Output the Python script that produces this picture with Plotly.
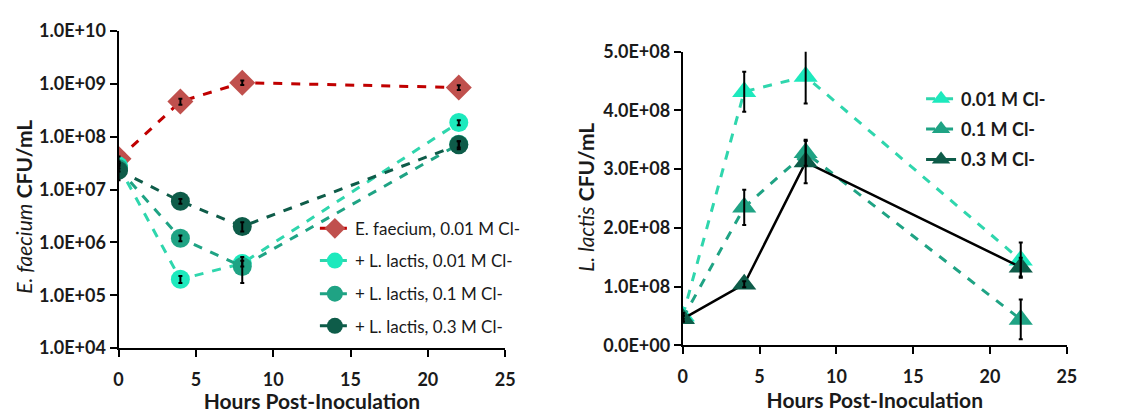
import plotly.graph_objects as go

hours = [0, 4, 8, 22]

# Left panel: E. faecium CFU/mL (log)
ef_alone = [3.8e7, 4.6e8, 1.05e9, 8.5e8]
ef_alone_err = [4e6, 6e7, 1.0e8, 9e7]
ef_ll_001 = [2.8e7, 2.0e5, 4.0e5, 1.85e8]
ef_ll_001_err = [3e6, 3e4, 5e4, 2e7]
ef_ll_01 = [2.5e7, 1.2e6, 3.5e5, 7.2e7]
ef_ll_01_err = [3e6, 1.5e5, 1.8e5, 1.0e7]
ef_ll_03 = [2.3e7, 6.0e6, 2.0e6, 7.0e7]
ef_ll_03_err = [8e6, 6e5, 4e5, 1.2e7]

# Right panel: L. lactis CFU/mL
ll_001 = [5.0e7, 4.32e8, 4.58e8, 1.45e8]
ll_001_err = [5e6, 3.4e7, 4.6e7, 3.0e7]
ll_01 = [4.6e7, 2.35e8, 3.28e8, 4.4e7]
ll_01_err = [5e6, 3.0e7, 2.2e7, 3.4e7]
ll_03 = [4.5e7, 1.04e8, 3.12e8, 1.33e8]
ll_03_err = [5e6, 5e6, 3.6e7, 1.6e7]

left_names = ["E. faecium, 0.01 M Cl-", "+ L. lactis, 0.01 M Cl-",
              "+ L. lactis, 0.1 M Cl-", "+ L. lactis, 0.3 M Cl-"]
right_names = ["0.01 M Cl-", "0.1 M Cl-", "0.3 M Cl-"]

log_tickvals = [1e4, 1e5, 1e6, 1e7, 1e8, 1e9, 1e10]
log_ticktext = ["1.0E+04", "1.0E+05", "1.0E+06", "1.0E+07", "1.0E+08", "1.0E+09", "1.0E+10"]
lin_tickvals = [0, 1e8, 2e8, 3e8, 4e8, 5e8]
lin_ticktext = ["0.0E+00", "1.0E+08", "2.0E+08", "3.0E+08", "4.0E+08", "5.0E+08"]
x_ticks = [0, 5, 10, 15, 20, 25]

C_RED_L = "#c00000"
C_RED_M = "#c0504d"
C_AQ = "#1de9bd"
C_AQ_L = "#2fd6ad"
C_MID = "#1fa384"
C_DARK = "#0e5c49"

FONT = "Lato"
TXT = "#1a1a1a"

fig = go.Figure()

def err(arr):
    return dict(type="data", array=arr, color="black", thickness=2, width=2)

left_leg = ["legend", "legend3", "legend4", "legend5"]
right_leg = ["legend2", "legend6", "legend7"]

left_series = [
    (ef_alone, left_names[0], C_RED_L, C_RED_M, "diamond", 20),
    (ef_ll_001, left_names[1], C_AQ_L, C_AQ, "circle", 19),
    (ef_ll_01, left_names[2], C_MID, C_MID, "circle", 19),
    (ef_ll_03, left_names[3], C_DARK, C_DARK, "circle", 19),
]
for (y, name, lc, mc, sym, sz), lg in zip(left_series, left_leg):
    fig.add_trace(go.Scatter(
        x=hours, y=y, name=name, mode="lines+markers",
        line=dict(color=lc, width=3, dash="dash"),
        marker=dict(symbol=sym, size=sz, color=mc),
        xaxis="x", yaxis="y", legend=lg,
    ))

right_series = [
    (ll_001, right_names[0], C_AQ_L, C_AQ),
    (ll_01, right_names[1], C_MID, C_MID),
]
for (y, name, lc, mc), lg in zip(right_series, right_leg[:2]):
    fig.add_trace(go.Scatter(
        x=hours, y=y, name=name, mode="lines+markers",
        line=dict(color=lc, width=3, dash="dash"),
        marker=dict(symbol="triangle-up", size=21, color=mc),
        xaxis="x2", yaxis="y2", legend=lg,
    ))
# 0.3 M: solid black line on the plot, dark teal line in legend
fig.add_trace(go.Scatter(
    x=hours, y=ll_03, name=right_names[2], mode="lines+markers",
    line=dict(color="black", width=2.5),
    marker=dict(symbol="triangle-up", size=21, color=C_DARK),
    xaxis="x2", yaxis="y2", showlegend=False,
))
fig.add_trace(go.Scatter(
    x=[None], y=[None], name=right_names[2], mode="lines+markers",
    line=dict(color=C_DARK, width=3),
    marker=dict(symbol="triangle-up", size=21, color=C_DARK),
    xaxis="x2", yaxis="y2", legend=right_leg[2],
))

# error bars drawn on top of markers
for y, e in [(ef_alone, ef_alone_err), (ef_ll_001, ef_ll_001_err),
             (ef_ll_01, ef_ll_01_err), (ef_ll_03, ef_ll_03_err)]:
    fig.add_trace(go.Scatter(x=hours, y=y, mode="markers",
                             marker=dict(size=1, color="rgba(0,0,0,0)"),
                             error_y=err(e), xaxis="x", yaxis="y",
                             showlegend=False, hoverinfo="skip"))
for y, e in [(ll_001, ll_001_err), (ll_01, ll_01_err), (ll_03, ll_03_err)]:
    fig.add_trace(go.Scatter(x=hours, y=y, mode="markers",
                             marker=dict(size=1, color="rgba(0,0,0,0)"),
                             error_y=err(e), xaxis="x2", yaxis="y2",
                             showlegend=False, hoverinfo="skip"))

tickfont = dict(family=FONT, size=18, color=TXT)
titlefont = dict(family=FONT, size=21, color=TXT)

common_x = dict(range=[0, 25], tickvals=x_ticks, ticktext=[f"<b>{v}</b>" for v in x_ticks],
                showline=True, linecolor="black", linewidth=2, ticks="outside",
                ticklen=7, tickwidth=2, tickcolor="black", showgrid=False, zeroline=False,
                tickfont=tickfont, ticklabelstandoff=7)

common_y = dict(showline=True, linecolor="black", linewidth=2, ticks="outside",
                ticklen=7, tickwidth=2, tickcolor="black", showgrid=False, zeroline=False,
                tickfont=tickfont)

layout = dict(
    width=1139, height=413,
    margin=dict(l=0, r=0, t=0, b=0),
    paper_bgcolor="white", plot_bgcolor="white",
    font=dict(family=FONT, color=TXT),
    xaxis=dict(domain=[0.101, 0.445], anchor="y",
               title=dict(text="<b>Hours Post-Inoculation</b>", font=titlefont, standoff=0),
               **common_x),
    yaxis=dict(domain=[0.1404, 0.9516], anchor="x", type="log", range=[4, 10],
               tickvals=log_tickvals, ticktext=[f"<b>{t}</b>" for t in log_ticktext],
               **common_y),
    xaxis2=dict(domain=[0.603, 0.9447], anchor="y2",
                title=dict(text="<b>Hours Post-Inoculation</b>", font=titlefont, standoff=0),
                **common_x),
    yaxis2=dict(domain=[0.1477, 0.8983], anchor="x2", range=[0, 5e8],
                tickvals=lin_tickvals, ticktext=[f"<b>{t}</b>" for t in lin_ticktext],
                **common_y),
    annotations=[
        dict(text="<i>E. faecium</i> <b>CFU/mL</b>", xref="paper", yref="paper",
             x=18 / 1139, y=1 - 206 / 413, textangle=-90, showarrow=False,
             xanchor="center", yanchor="middle",
             font=dict(family=FONT, size=21, color=TXT)),
        dict(text="<i>L. lactis</i> <b>CFU/mL</b>", xref="paper", yref="paper",
             x=588 / 1139, y=1 - 196 / 413, textangle=-90, showarrow=False,
             xanchor="center", yanchor="middle",
             font=dict(family=FONT, size=21, color=TXT)),
    ],
)

left_y = [229, 263, 298, 332]
for lg, yc in zip(left_leg, left_y):
    layout[lg] = dict(x=0.2757, y=1 - yc / 413, xanchor="left", yanchor="middle",
                      bgcolor="rgba(0,0,0,0)", font=dict(family=FONT, size=17, color=TXT),
                      itemwidth=30)
right_y = [92, 124, 156]
for lg, yc in zip(right_leg, right_y):
    layout[lg] = dict(x=0.815, y=1 - yc / 413, xanchor="left", yanchor="middle",
                      bgcolor="rgba(0,0,0,0)",
                      font=dict(family=FONT, size=18, color=TXT, weight="bold"),
                      itemwidth=30)

fig.update_layout(**layout)

fig.write_html("out.html")
